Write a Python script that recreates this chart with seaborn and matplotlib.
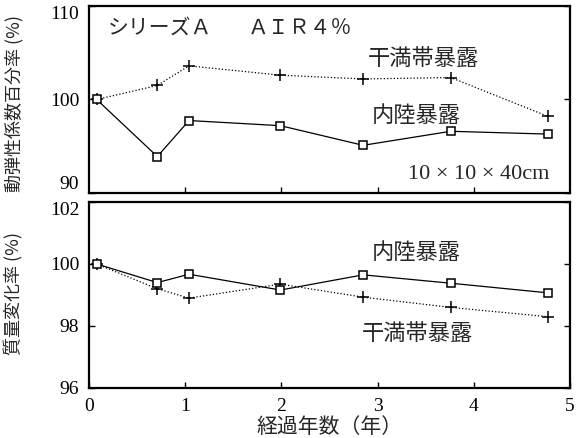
import numpy as np
import pandas as pd
import matplotlib
matplotlib.use("Agg")
import matplotlib.pyplot as plt
import seaborn as sns

# 経過年数 (年)
years = [0.08, 0.71, 1.04, 1.99, 2.85, 3.76, 4.77]
# 動弾性係数百分率 (%)
modulus_tidal = [100.0, 101.5, 103.6, 102.6, 102.2, 102.35, 98.2]
modulus_inland = [100.0, 93.9, 97.75, 97.2, 95.1, 96.6, 96.3]
# 質量変化率 (%)
mass_tidal = [100.0, 99.2, 98.9, 99.35, 98.93, 98.6, 98.3]
mass_inland = [100.0, 99.4, 99.67, 99.16, 99.65, 99.38, 99.07]

x_ticks = [0, 1, 2, 3, 4, 5]
top_ticks = [90, 100, 110]
bottom_ticks = [96, 98, 100, 102]

sns.set_style("white")
plt.rcParams["font.family"] = ["Noto Sans CJK JP", "DejaVu Sans"]
serif = ["Liberation Serif", "DejaVu Serif"]

df_top = pd.DataFrame({"x": years * 2,
                       "y": modulus_tidal + modulus_inland,
                       "s": ["tidal"] * 7 + ["inland"] * 7})
df_bot = pd.DataFrame({"x": years * 2,
                       "y": mass_tidal + mass_inland,
                       "s": ["tidal"] * 7 + ["inland"] * 7})

fig = plt.figure(figsize=(5.77, 4.38), dpi=100)
ax1 = fig.add_axes([89 / 577, 1 - 193 / 438, 481 / 577, 187 / 438])
ax2 = fig.add_axes([89 / 577, 1 - 388 / 438, 481 / 577, 186 / 438])


def draw(ax, df):
    sns.lineplot(data=df[df["s"] == "tidal"], x="x", y="y", ax=ax, color="black",
                 linestyle=":", lw=0.9, marker="+", markersize=9, mew=1.1,
                 markeredgecolor="black")
    sns.lineplot(data=df[df["s"] == "inland"], x="x", y="y", ax=ax, color="black",
                 linestyle="-", lw=0.9, marker="s", markersize=6, mew=1.1,
                 markerfacecolor="white", markeredgecolor="black")
    ax.set_xlim(0, 5)
    for sp in ax.spines.values():
        sp.set_linewidth(1.6)
        sp.set_color("black")
    ax.tick_params(direction="in", length=4, width=1, top=False, right=True,
                   bottom=True, left=True, colors="black", labelsize=14, pad=7)
    ax.set_xlabel("")


draw(ax1, df_top)
ax1.set_ylim(90, 110)
ax1.set_yticks(top_ticks)
ax1.set_xticks(x_ticks[1:-1])
ax1.tick_params(labelbottom=False)
for lab in ax1.get_yticklabels():
    lab.set_family(serif)
ylabs = ax1.get_yticklabels()
ylabs[0].set_va("bottom")
ylabs[-1].set_va("top")
ax1.set_ylabel("動弾性係数百分率 (%)", fontsize=13)
ax1.yaxis.set_label_coords(-0.136, 0.48)

ax1.text(0.04, 0.885, "シリーズＡ", transform=ax1.transAxes,
         fontsize=15, va="center", ha="left")
ax1.text(0.331, 0.885, "ＡＩＲ４％", transform=ax1.transAxes,
         fontsize=15, va="center", ha="left")
ax1.text(0.58, 0.72, "干満帯暴露", transform=ax1.transAxes, fontsize=16,
         va="center", ha="left")
ax1.text(0.588, 0.415, "内陸暴露", transform=ax1.transAxes, fontsize=16,
         va="center", ha="left")
ax1.text(0.663, 0.1, "10 × 10 × 40cm", transform=ax1.transAxes, fontsize=16,
         va="center", ha="left", family=serif)

draw(ax2, df_bot)
ax2.set_ylim(96, 102)
ax2.set_yticks(bottom_ticks)
ax2.set_xticks(x_ticks)
for lab in ax2.get_xticklabels() + ax2.get_yticklabels():
    lab.set_family(serif)
ax2.get_yticklabels()[-1].set_va("top")
ax2.set_ylabel("質量変化率 (%)", fontsize=13)
ax2.yaxis.set_label_coords(-0.136, 0.51)
ax2.set_xlabel("経過年数（年）", fontsize=15, labelpad=1)

ax2.text(0.588, 0.73, "内陸暴露", transform=ax2.transAxes, fontsize=16,
         va="center", ha="left")
ax2.text(0.568, 0.295, "干満帯暴露", transform=ax2.transAxes, fontsize=16,
         va="center", ha="left")

fig.savefig("out.png", dpi=100)
